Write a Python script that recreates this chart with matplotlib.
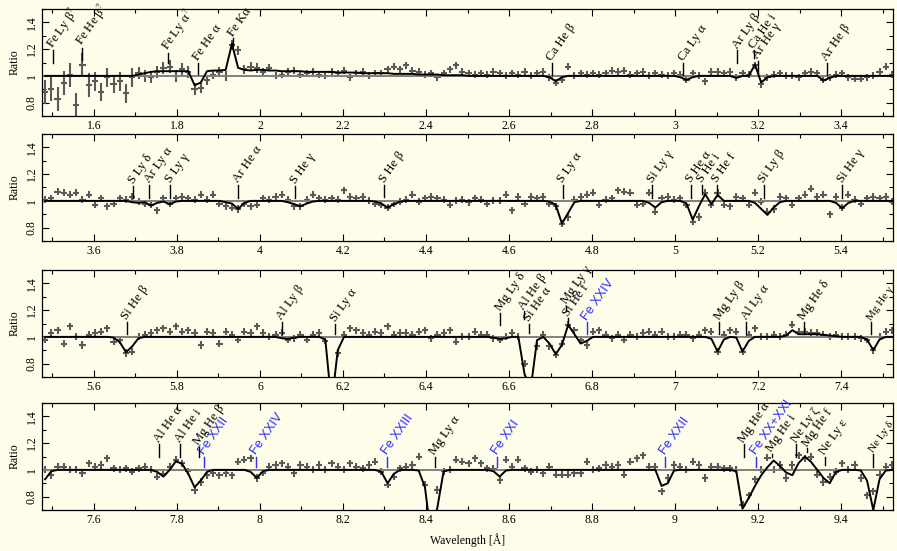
import numpy as np
import matplotlib
matplotlib.use("Agg")
import matplotlib.pyplot as plt
from matplotlib.ticker import MultipleLocator, FuncFormatter

plt.rcParams['font.family'] = ['Liberation Serif', 'DejaVu Serif']
plt.rcParams['mathtext.fontset'] = 'stix'

BG = '#fefde9'
DATA_COLOR = '#5a5a5a'
BLUE = '#2b2bff'

# wavelength grid of the binned spectrum (first bin centre of each strip)
bin_width = 0.015
panel_starts = [1.4825, 3.4825, 5.4825, 7.4825]
panel_xlim = [(1.475, 3.525), (3.475, 5.525), (5.475, 7.525), (7.475, 9.525)]

ytick_vals = [0.8, 1.0, 1.2, 1.4]
ytick_labels = ['0.8', '1', '1.2', '1.4']

# ---- strip 1: 1.48 - 3.52 A
ratio_1 = [0.88, 0.90, 0.83, 0.95, 1.01, 0.78, 1.08, 0.93, 0.96, 0.88,
           0.99, 0.94, 0.96, 0.87, 0.99, 1.02, 1.00, 0.99, 1.03, 1.06,
           1.07, 1.00, 1.05, 1.03, 0.90, 0.91, 0.97, 1.01, 1.03, 1.00,
           1.23, 1.19, 1.05, 1.07, 1.06, 1.03, 1.06, 1.00, 1.01, 1.03,
           1.04, 1.01, 1.02, 1.03, 1.01, 1.00, 1.03, 1.02, 1.04, 0.99,
           1.02, 1.03, 1.00, 1.02, 1.02, 1.05, 1.07, 1.05, 1.08, 1.04,
           1.03, 1.01, 1.02, 0.99, 1.02, 1.05, 1.08, 1.03, 1.02, 1.01,
           1.02, 1.01, 1.03, 1.02, 1.00, 1.02, 1.01, 1.03, 1.00, 1.02,
           1.03, 0.99, 0.95, 0.97, 1.07, 1.00, 1.02, 1.01, 1.02, 1.01,
           1.02, 1.04, 1.03, 1.04, 1.01, 1.02, 1.03, 1.00, 1.02, 1.01,
           1.00, 1.02, 1.01, 0.97, 1.02, 1.00, 0.96, 1.03, 1.03, 1.02,
           1.03, 0.99, 1.02, 1.01, 1.08, 0.94, 0.99, 1.01, 1.02, 1.00,
           1.00, 0.99, 1.02, 1.03, 1.02, 0.97, 0.99, 1.01, 1.02, 0.99,
           0.98, 0.98, 0.99, 1.00, 1.03, 1.07, 1.01]
model_1 = [1.0, 1.0, 1.0, 1.0, 1.0, 1.0, 1.0, 1.0, 1.0, 1.0,
           1.0, 1.0, 1.0, 1.0, 1.0, 1.01, 1.02, 1.03, 1.035, 1.035,
           1.035, 1.035, 1.035, 1.035, 0.93, 0.95, 1.035, 1.04, 1.04, 1.045,
           1.24, 1.06, 1.045, 1.04, 1.045, 1.045, 1.04, 1.04, 1.035, 1.035,
           1.035, 1.035, 1.03, 1.03, 1.03, 1.03, 1.03, 1.025, 1.025, 1.025,
           1.025, 1.02, 1.02, 1.02, 1.02, 1.02, 1.015, 1.015, 1.015, 1.015,
           1.01, 1.01, 1.01, 1.01, 1.005, 1.005, 1.005, 1.005, 1.0, 1.0,
           1.0, 1.0, 1.0, 1.0, 1.0, 1.0, 1.0, 1.0, 1.0, 1.0,
           1.0, 0.99, 0.96, 0.99, 1.0, 1.0, 1.0, 1.0, 1.0, 1.0,
           1.0, 1.0, 1.0, 1.0, 1.0, 1.0, 1.0, 1.0, 1.0, 1.0,
           1.0, 1.0, 0.99, 0.97, 0.99, 1.0, 1.0, 1.0, 1.0, 1.0,
           1.0, 0.985, 1.0, 1.0, 1.085, 0.95, 0.99, 1.0, 1.0, 1.0,
           1.0, 1.0, 1.0, 1.0, 1.0, 0.965, 0.985, 1.0, 1.0, 1.0,
           1.0, 1.0, 1.0, 1.0, 1.0, 1.0, 1.0]
err_1 = [0.09] * 8 + [0.07] * 7 + [0.045] * 10 + [0.035] * 10 + [0.027] * 102

# ---- strip 2: 3.48 - 5.52 A
ratio_2 = [1.01, 1.02, 1.07, 1.06, 1.045, 1.06, 1.01, 1.045, 0.97, 1.02,
           0.96, 0.98, 1.02, 1.01, 1.03, 0.995, 0.98, 0.97, 0.93, 1.02,
           0.98, 1.02, 1.03, 1.02, 1.01, 1.045, 1.01, 1.045, 0.98, 0.96,
           0.95, 0.94, 0.98, 0.96, 0.97, 1.02, 1.01, 1.03, 1.045, 1.01,
           0.96, 0.96, 1.01, 1.045, 1.02, 1.01, 1.02, 1.01, 1.08, 1.03,
           1.02, 1.03, 1.00, 0.98, 0.97, 0.95, 0.98, 0.995, 1.01, 1.045,
           0.995, 1.02, 1.03, 1.02, 1.01, 0.97, 1.00, 1.01, 0.99, 1.02,
           1.01, 0.98, 1.00, 1.00, 1.045, 0.93, 1.03, 0.98, 1.03, 1.02,
           1.03, 0.98, 0.96, 0.83, 0.88, 1.01, 1.03, 1.045, 1.06, 0.97,
           1.01, 1.02, 1.08, 1.07, 1.06, 0.97, 0.98, 1.06, 0.92, 1.02,
           1.03, 1.01, 1.02, 0.97, 0.845, 0.88, 1.06, 0.97, 1.06, 0.97,
           0.96, 1.03, 1.02, 0.97, 1.06, 0.995, 0.92, 0.94, 1.03, 1.02,
           0.97, 1.02, 1.045, 1.09, 1.03, 1.045, 0.90, 1.03, 0.95, 1.045,
           1.01, 0.98, 1.02, 1.03, 1.02, 1.03, 0.995]
model_2 = [1.0, 1.0, 1.0, 1.0, 1.0, 1.0, 1.0, 1.0, 1.0, 1.0,
           1.0, 1.0, 1.0, 1.0, 0.99, 0.985, 0.99, 0.965, 0.985, 0.995,
           0.975, 0.995, 1.0, 1.0, 1.0, 1.0, 1.0, 1.0, 1.0, 0.99,
           0.98, 0.94, 0.985, 1.0, 1.0, 1.0, 1.0, 1.0, 1.0, 0.99,
           0.975, 0.96, 0.98, 0.995, 1.0, 1.0, 1.0, 1.0, 1.0, 1.0,
           1.0, 1.0, 1.0, 0.995, 0.98, 0.95, 0.975, 0.995, 1.0, 1.0,
           1.0, 1.0, 1.0, 1.0, 1.0, 1.0, 1.0, 1.0, 1.0, 1.0,
           1.0, 1.0, 1.0, 1.0, 1.0, 1.0, 1.0, 1.0, 1.0, 1.0,
           1.0, 0.995, 0.97, 0.83, 0.91, 0.99, 1.0, 1.0, 1.0, 1.0,
           1.0, 1.0, 1.0, 1.0, 1.0, 1.0, 1.0, 0.985, 0.95, 0.99,
           1.0, 1.0, 1.0, 0.98, 0.86, 0.96, 1.05, 0.975, 1.045, 1.0,
           1.0, 1.0, 1.0, 1.0, 0.985, 0.94, 0.895, 0.95, 0.99, 1.0,
           1.0, 1.0, 1.0, 1.0, 1.0, 1.0, 1.0, 0.985, 0.945, 0.985,
           1.0, 1.0, 1.0, 1.0, 1.0, 1.0, 1.0]
err_2 = 0.027

# ---- strip 3: 5.48 - 7.52 A
ratio_3 = [0.98, 1.03, 1.05, 0.95, 1.08, 1.0, 0.94, 1.015, 1.03, 1.04,
           1.065, 0.965, 0.975, 0.88, 0.89, 1.0, 1.015, 1.03, 1.05, 1.065,
           1.04, 1.08, 1.04, 1.05, 1.03, 0.94, 1.04, 1.03, 0.95, 1.04,
           1.015, 0.98, 1.04, 1.03, 1.08, 1.03, 1.0, 1.015, 1.03, 0.98,
           0.99, 1.015, 0.98, 1.015, 1.03, 0.97, 0.5, 0.88, 1.015, 1.065,
           1.05, 1.03, 1.015, 1.04, 1.03, 1.08, 1.015, 1.03, 1.03, 1.015,
           1.04, 1.05, 0.99, 1.015, 1.03, 1.05, 0.965, 1.0, 1.0, 1.04,
           1.015, 1.015, 0.99, 0.98, 1.0, 1.03, 1.0, 0.80, 0.66, 0.93,
           1.015, 0.93, 0.866, 0.95, 1.09, 1.05, 0.98, 0.94, 1.04, 1.05,
           1.015, 0.99, 1.015, 0.98, 1.015, 1.0, 1.03, 1.04, 1.015, 1.04,
           1.0, 1.0, 1.015, 1.015, 0.99, 1.015, 1.05, 1.04, 0.89, 1.015,
           1.05, 1.04, 0.89, 1.015, 1.065, 1.0, 1.0, 1.015, 1.0, 1.015,
           1.09, 1.04, 1.04, 1.03, 1.03, 1.015, 1.0, 1.015, 1.0, 1.0,
           1.0, 0.99, 0.98, 0.9, 1.0, 1.04, 1.05]
model_3 = [1.0, 1.0, 1.0, 1.0, 1.0, 1.0, 1.0, 1.0, 1.0, 1.0,
           1.0, 0.995, 0.96, 0.885, 0.93, 0.99, 1.0, 1.0, 1.0, 1.0,
           1.0, 1.0, 1.0, 1.0, 1.0, 1.0, 1.0, 1.0, 1.0, 1.0,
           1.0, 1.0, 1.0, 1.0, 1.0, 1.0, 1.0, 1.0, 0.99, 0.985,
           0.995, 1.0, 1.0, 1.0, 1.0, 0.98, 0.5, 0.9, 1.0, 1.0,
           1.0, 1.0, 1.0, 1.0, 1.0, 1.0, 1.0, 1.0, 1.0, 1.0,
           1.0, 1.0, 1.0, 1.0, 1.0, 1.0, 1.0, 1.0, 1.0, 1.0,
           1.0, 1.0, 0.995, 0.985, 0.99, 1.0, 1.0, 0.72, 0.62, 0.975,
           1.0, 0.95, 0.87, 0.94, 1.09, 1.02, 0.95, 0.97, 1.0, 1.0,
           1.0, 1.0, 1.0, 1.0, 1.0, 1.0, 1.0, 1.0, 1.0, 1.0,
           1.0, 1.0, 1.0, 1.0, 1.0, 1.0, 1.0, 0.985, 0.89, 0.98,
           1.0, 0.995, 0.89, 0.97, 1.0, 1.0, 1.0, 1.0, 1.0, 1.01,
           1.05, 1.02, 1.02, 1.02, 1.02, 1.015, 1.01, 1.005, 1.0, 1.0,
           1.0, 1.0, 0.98, 0.9, 0.98, 1.0, 1.0]
err_3 = 0.027

# ---- strip 4: 7.48 - 9.52 A
ratio_4 = [1.0, 0.96, 1.025, 1.025, 1.0, 1.0, 0.975, 1.05, 1.025, 1.037,
           1.087, 1.012, 1.0, 1.012, 0.987, 1.012, 1.025, 1.0, 0.95, 0.97,
           1.025, 1.075, 1.05, 0.99, 0.85, 0.91, 0.96, 0.975, 0.96, 0.975,
           0.96, 1.06, 1.075, 1.087, 0.94, 0.98, 1.025, 1.037, 1.05, 1.025,
           0.975, 1.037, 1.025, 1.0, 1.037, 1.0, 1.05, 1.025, 1.0, 1.05,
           1.025, 1.012, 1.037, 1.06, 0.987, 0.89, 0.95, 1.012, 1.025, 1.037,
           1.1, 0.89, 0.55, 0.85, 0.99, 1.0, 1.075, 1.06, 1.05, 1.087,
           1.05, 1.012, 1.01, 0.925, 1.075, 1.025, 1.075, 1.012, 0.987, 1.0,
           0.975, 1.025, 0.963, 0.963, 0.963, 0.975, 0.975, 1.06, 1.0, 1.012,
           1.037, 1.025, 1.037, 0.963, 1.06, 1.087, 1.11, 1.025, 1.025, 0.84,
           0.94, 1.037, 1.025, 1.0, 1.06, 1.037, 0.94, 1.025, 1.025, 1.012,
           1.012, 1.0, 0.74, 0.81, 0.93, 1.0, 1.09, 1.0, 1.037, 0.94,
           1.037, 1.11, 1.087, 1.1, 0.963, 0.91, 0.95, 0.987, 1.05, 1.0,
           1.037, 0.94, 0.81, 0.84, 0.963, 1.025, 1.037]
model_4 = [0.93, 0.99, 1.0, 1.0, 1.0, 1.0, 1.0, 1.0, 1.0, 1.0,
           1.0, 1.0, 1.0, 1.0, 1.0, 1.0, 1.0, 1.0, 0.985, 0.95,
           1.0, 1.065, 1.045, 0.97, 0.87, 0.92, 0.985, 1.0, 1.0, 1.0,
           1.0, 1.0, 1.0, 0.985, 0.94, 0.99, 1.0, 1.0, 1.0, 1.0,
           1.0, 1.0, 1.0, 1.0, 1.0, 1.0, 1.0, 1.0, 1.0, 1.0,
           1.0, 1.0, 1.0, 1.0, 0.985, 0.9, 0.97, 1.0, 1.0, 1.0,
           0.995, 0.87, 0.5, 0.72, 0.99, 1.0, 1.0, 1.0, 1.0, 1.0,
           1.0, 1.0, 0.99, 0.95, 0.995, 1.0, 1.0, 1.0, 1.0, 1.0,
           1.0, 1.0, 1.0, 1.0, 1.0, 1.0, 1.0, 1.0, 1.0, 1.0,
           1.0, 1.0, 1.0, 1.0, 1.0, 1.0, 1.0, 1.0, 1.0, 0.88,
           0.9, 0.995, 1.0, 1.0, 1.0, 1.0, 1.0, 1.0, 1.0, 1.0,
           1.0, 0.99, 0.71, 0.79, 0.88, 0.96, 1.02, 1.07, 1.03, 0.98,
           0.96, 1.05, 1.1, 1.06, 1.0, 0.94, 0.9, 0.985, 1.0, 1.0,
           1.0, 0.995, 0.92, 0.7, 0.93, 0.995, 1.0]
err_4 = 0.027

# ---- line identifications: text, wavelength, tick bottom, tick top, Fe L-shell (blue)
lines_1 = [
    ("Fe Ly β$^?$", 1.501, 1.10, 1.19, False),
    ("Fe He β$^?$", 1.571, 1.12, 1.21, False),
    ("Fe Ly α$^?$", 1.778, 1.10, 1.17, False),
    ("Fe He α", 1.851, 1.015, 1.10, False),
    ("Fe Kα", 1.936, 1.22, 1.28, False),
    ("Ca He β", 2.703, 1.01, 1.10, False),
    ("Ca Ly α", 3.020, 1.01, 1.10, False),
    ("Ar Ly β", 3.150, 1.10, 1.19, False),
    ("Ca He i", 3.190, 1.13, 1.19, False),
    ("Ar He γ", 3.199, 1.02, 1.11, False),
    ("Ar He β", 3.365, 1.01, 1.10, False),
]
lines_2 = [
    ("S Ly δ", 3.695, 1.02, 1.11, False),
    ("Ar Ly α", 3.733, 1.02, 1.12, False),
    ("S Ly γ", 3.784, 1.02, 1.12, False),
    ("Ar He α", 3.948, 1.02, 1.12, False),
    ("S He γ", 4.085, 1.02, 1.11, False),
    ("S He β", 4.300, 1.03, 1.12, False),
    ("S Ly α", 4.729, 1.02, 1.12, False),
    ("Si Ly γ", 4.945, 1.02, 1.12, False),
    ("S He α", 5.038, 1.02, 1.12, False),
    ("S He i", 5.066, 1.05, 1.12, False),
    ("S He f", 5.102, 1.04, 1.12, False),
    ("Si Ly β", 5.214, 1.02, 1.12, False),
    ("Si He γ", 5.403, 1.02, 1.12, False),
]
lines_3 = [
    ("Si He β", 5.679, 1.02, 1.11, False),
    ("Al Ly β", 6.052, 1.02, 1.11, False),
    ("Si Ly α", 6.181, 1.02, 1.10, False),
    ("Mg Ly δ", 6.579, 1.09, 1.18, False),
    ("Al He β", 6.635, 1.13, 1.19, False),
    ("Si He α", 6.648, 1.03, 1.10, False),
    ("Mg Ly γ", 6.738, 1.20, 1.23, False),
    ("Si He f", 6.741, 1.10, 1.14, False),
    ("Fe XXIV", 6.787, 1.02, 1.11, True),
    ("Mg Ly β", 7.106, 1.02, 1.11, False),
    ("Al Ly α", 7.172, 1.02, 1.11, False),
    ("Mg He δ", 7.310, 1.02, 1.11, False),
    ("Mg He γ", 7.473, 1.02, 1.11, False),
]
lines_4 = [
    ("Al He α", 7.757, 1.10, 1.19, False),
    ("Al He i", 7.807, 1.10, 1.19, False),
    ("Mg He β", 7.852, 1.10, 1.17, False),
    ("Fe XXII", 7.866, 1.025, 1.10, True),
    ("Fe XXIV", 7.990, 1.025, 1.10, True),
    ("Fe XXIII", 8.305, 1.025, 1.10, True),
    ("Mg Ly α", 8.421, 1.025, 1.10, False),
    ("Fe XXI", 8.572, 1.025, 1.10, True),
    ("Fe XXII", 8.975, 1.025, 1.10, True),
    ("Mg He α", 9.166, 1.10, 1.19, False),
    ("Fe XX+XXI", 9.196, 1.025, 1.10, True),
    ("Mg He i", 9.233, 1.10, 1.12, False),
    ("Ne Ly ζ", 9.292, 1.10, 1.19, False),
    ("Mg He f", 9.318, 1.13, 1.16, False),
    ("Ne Ly ε", 9.361, 1.04, 1.10, False),
    ("Ne Ly δ", 9.478, 1.025, 1.115, False),
]

ratios = [ratio_1, ratio_2, ratio_3, ratio_4]
models = [model_1, model_2, model_3, model_4]
errs = [err_1, err_2, err_3, err_4]
line_sets = [lines_1, lines_2, lines_3, lines_4]

# axes boxes in figure pixels (top, bottom); figure is 897 x 551
W, H = 897.0, 551.0
x_left, x_right = 42, 893
boxes = [(9, 116), (134, 241), (270, 377), (403, 510)]

fig = plt.figure(figsize=(8.97, 5.51), dpi=100, facecolor=BG)
fmt = FuncFormatter(lambda v, p: '%g' % round(v, 3))

for k in range(4):
    top, bot = boxes[k]
    ax = fig.add_axes([x_left / W, 1 - bot / H, (x_right - x_left) / W, (bot - top) / H],
                      facecolor=BG)
    wl = panel_starts[k] + bin_width * np.arange(len(ratios[k]))

    ax.errorbar(wl, ratios[k], xerr=0.0075, yerr=errs[k], fmt='none',
                ecolor=DATA_COLOR, elinewidth=1.5, capsize=0, zorder=2)
    ax.axhline(1.0, color='#808080', lw=1.4, zorder=2.5)
    ax.plot(wl, models[k], color='black', lw=1.4, zorder=3)

    x_hi = panel_xlim[k][1]
    for txt, lam, lo, hi, fe in line_sets[k]:
        c = BLUE if fe else 'black'
        fam = ['Liberation Sans', 'DejaVu Sans'] if fe else ['Liberation Serif', 'DejaVu Serif']
        # labels right at the strip end are set a touch smaller so they stay on the page
        size = 8.0 if lam > x_hi - 0.06 else 9.2
        ax.plot([lam, lam], [lo, hi], color=c, lw=1.0, zorder=4)
        ax.text(lam, hi + 0.012, txt, rotation=55, rotation_mode='anchor',
                ha='left', va='baseline', fontsize=size, color=c, family=fam)

    ax.set_xlim(*panel_xlim[k])
    ax.set_ylim(0.7, 1.5)
    ax.xaxis.set_major_locator(MultipleLocator(0.2))
    ax.xaxis.set_minor_locator(MultipleLocator(0.1))
    ax.xaxis.set_major_formatter(fmt)
    ax.set_yticks(ytick_vals)
    ax.set_yticklabels(ytick_labels, rotation=90, va='center')
    ax.yaxis.set_minor_locator(MultipleLocator(0.1))
    ax.tick_params(which='both', direction='in', top=True, right=True,
                   labelsize=8.5, width=0.8)
    ax.tick_params(which='major', length=5)
    ax.tick_params(which='minor', length=3)
    ax.tick_params(axis='x', pad=3)
    ax.tick_params(axis='y', pad=3)
    for s in ax.spines.values():
        s.set_linewidth(0.9)
    ax.set_ylabel('Ratio', fontsize=8.5, labelpad=4)
    if k == 3:
        ax.set_xlabel('Wavelength [Å]', fontsize=8.5, labelpad=5)

fig.savefig('out.png', dpi=100, facecolor=BG)
